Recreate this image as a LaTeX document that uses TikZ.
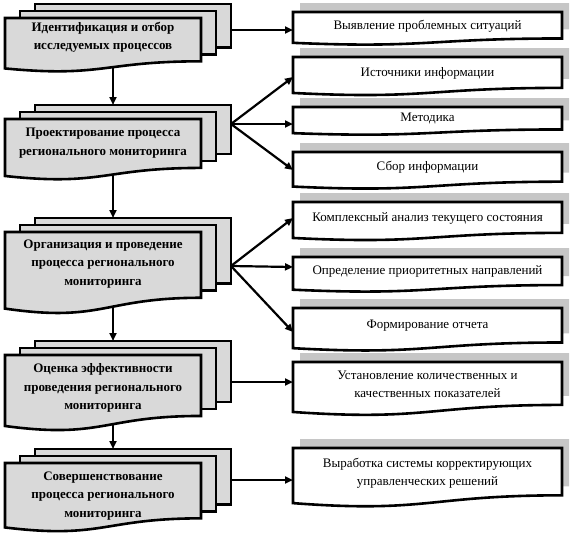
\documentclass[tikz,border=0pt]{standalone}
\usepackage{fontspec}
\setmainfont{Liberation Serif}
\usetikzlibrary{arrows.meta}
\definecolor{boxgray}{RGB}{217,217,217}
\definecolor{shadowgray}{RGB}{198,198,198}
\newcommand\docshape[5]{\path[#1] (#2,#3) -- ({#2+#4},#3) -- ({#2+#4},{#3+0.802*#5}) .. controls ({#2+0.5*#4},{#3+0.802*#5}) and ({#2+0.5*#4},{#3+1.1075*#5}) .. (#2,{#3+0.934*#5}) -- cycle;}
% name, front top, height, text y, text
\newcommand\leftbox[5]{%
  \path[boxline] (35,{#2-14}) rectangle (231,{#2-14+0.802*#3});
  \path[boxline] (20,{#2-7}) rectangle (216,{#2-7+0.802*#3});
  \docshape{boxline}{5}{#2}{196}{#3}
  \node[lefttext] (#1) at (103,#4) {#5};
  \coordinate (#1s) at (113,{#2+0.916*#3});
  \coordinate (#1n) at (113,{#2-14});
}
% name, top, height, text
\newcommand\rightbox[4]{%
  \docshape{fill=shadowgray}{300}{#2-9}{269}{#3}
  \docshape{draw,line width=2.6pt,fill=white}{293}{#2}{269}{#3}
  \node[righttext] (#1) at (427.5,{#2+0.42*#3}) {#4};
}
\tikzset{
  boxline/.style={draw,line width=2.6pt,fill=boxgray},
  lefttext/.style={align=center,font=\fontsize{13pt}{18.4pt}\selectfont\bfseries,inner sep=0pt},
  righttext/.style={align=center,font=\fontsize{13pt}{18pt}\selectfont,inner sep=0pt},
  conn/.style={line width=2.2pt,-{Triangle[length=8pt,width=7pt]}}
}
\begin{document}
\begin{tikzpicture}[x=1pt,y=-1pt]
\useasboundingbox (0,0) rectangle (573,544);
\leftbox{L1}{18}{54}{37}{Идентификация и отбор\\исследуемых процессов}
\leftbox{L2}{119}{61}{143}{Проектирование процесса\\регионального мониторинга}
\leftbox{L3}{232}{82}{264}{Организация и проведение\\процесса регионального\\мониторинга}
\leftbox{L4}{355}{76}{388}{Оценка эффективности\\проведения регионального\\мониторинга}
\leftbox{L5}{463}{69}{496}{Совершенствование\\процесса регионального\\мониторинга}

\rightbox{R1}{12}{33}{Выявление проблемных ситуаций}
\rightbox{R2}{57}{38.5}{Источники информации}
\rightbox{R3}{107}{28}{Методика}
\rightbox{R4}{152}{37}{Сбор информации}
\rightbox{R5}{202}{38.5}{Комплексный анализ текущего состояния}
\rightbox{R6}{257}{35}{Определение приоритетных направлений}
\rightbox{R7}{308}{43}{Формирование отчета}
\rightbox{R8}{362}{53.5}{Установление количественных и\\качественных показателей}
\rightbox{R9}{448}{59}{Выработка системы корректирующих\\управленческих решений}

\coordinate (L1e) at (231,30);
\coordinate (L2e) at (231,124);
\coordinate (L3e) at (231,266);
\coordinate (L4e) at (231,382);
\coordinate (L5e) at (231,480);
\coordinate (R1w) at (293,30);
\coordinate (R2w) at (293,77);
\coordinate (R3w) at (293,124);
\coordinate (R4w) at (293,170);
\coordinate (R5w) at (293,218);
\coordinate (R6w) at (293,267);
\coordinate (R7w) at (293,332);
\coordinate (R8w) at (293,382);
\coordinate (R9w) at (293,480);

\draw[conn] (L1e) -- (R1w);
\draw[conn] (L2e) -- (R2w);
\draw[conn] (L2e) -- (R3w);
\draw[conn] (L2e) -- (R4w);
\draw[conn] (L3e) -- (R5w);
\draw[conn] (L3e) -- (R6w);
\draw[conn] (L3e) -- (R7w);
\draw[conn] (L4e) -- (R8w);
\draw[conn] (L5e) -- (R9w);

\draw[conn] (L1s) -- (L2n);
\draw[conn] (L2s) -- (L3n);
\draw[conn] (L3s) -- (L4n);
\draw[conn] (L4s) -- (L5n);
\end{tikzpicture}
\end{document}
